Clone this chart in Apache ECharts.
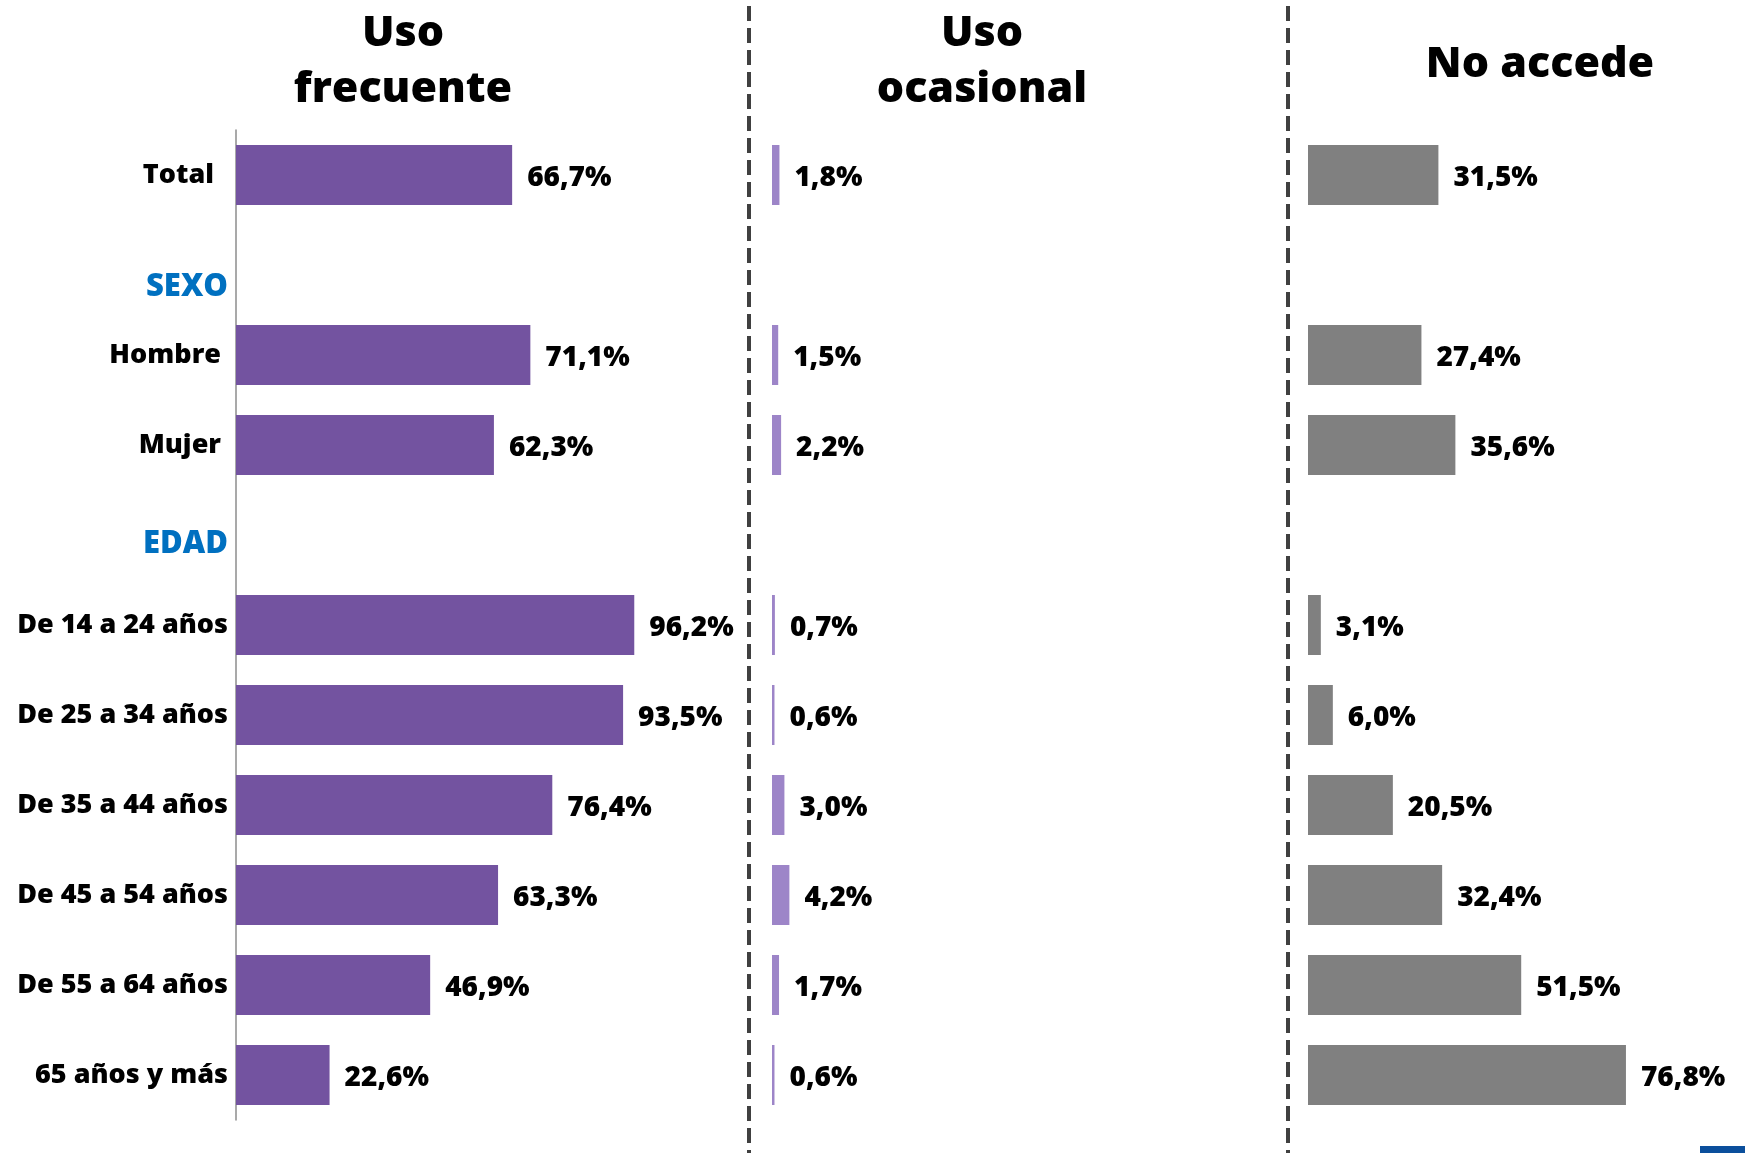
<!DOCTYPE html>
<html>
<head>
<meta charset="utf-8">
<script src="https://cdn.jsdelivr.net/npm/echarts@6/dist/echarts.min.js"></script>
<style>
  html, body { margin: 0; padding: 0; background: #fff; }
  #main { width: 1745px; height: 1153px; }
</style>
</head>
<body>
<div id="main"></div>
<script>
// filas del gráfico (las vacías llevan el rótulo de sección)
var categories = ['Total  ', 'SEXO', 'Hombre ', 'Mujer ', 'EDAD', 'De 14 a 24 años', 'De 25 a 34 años',
  'De 35 a 44 años', 'De 45 a 54 años', 'De 55 a 64 años', '65 años y más']
var usoFrecuente = [66.7, null, 71.1, 62.3, null, 96.2, 93.5, 76.4, 63.3, 46.9, 22.6]
var usoOcasional = [1.8, null, 1.5, 2.2, null, 0.7, 0.6, 3.0, 4.2, 1.7, 0.6]
var noAccede = [31.5, null, 27.4, 35.6, null, 3.1, 6.0, 20.5, 32.4, 51.5, 76.8]
var titles = ['Uso\nfrecuente', 'Uso\nocasional', 'No accede']

var FONT = '"Open Sans", Lato, sans-serif'
var COLORS = ['#7353a0', '#9d85c8', '#808080']
var LEFTS = [236, 772, 1308]
var TITLE_X = [398, 977, 1535]
var TITLE_TOP = [1, 1, 32]

var chart = echarts.init(document.getElementById('main'))

function fmt (p) {
  if (p.value == null) return ''
  return p.value.toFixed(1).replace('.', ',') + '%'
}

var grids = []
var xAxes = []
var yAxes = []
var series = []
var data = [usoFrecuente, usoOcasional, noAccede]

for (var i = 0; i < 3; i++) {
  grids.push({ left: LEFTS[i], width: 414, top: 130, height: 990 })
  xAxes.push({ type: 'value', gridIndex: i, min: 0, max: 100, show: false })
  yAxes.push({
    type: 'category',
    gridIndex: i,
    inverse: true,
    data: categories,
    axisTick: { show: false },
    axisLine: { show: i === 0, lineStyle: { color: '#8c8c8c', width: 1.5 } },
    axisLabel: {
      show: i === 0,
      margin: 8,
      fontFamily: FONT,
      fontWeight: 800,
      fontSize: 27,
      color: '#000',
      formatter: function (v) {
        if (v === 'SEXO') return '{sexo|' + v + '}'
        if (v === 'EDAD') return '{edad|' + v + '}'
        return v
      },
      rich: {
        sexo: { color: '#0070c0', fontFamily: FONT, fontWeight: 800, fontSize: 31, padding: [44, 0, 0, 0] },
        edad: { color: '#0070c0', fontFamily: FONT, fontWeight: 800, fontSize: 31, padding: [18, 0, 0, 0] }
      }
    }
  })
  series.push({
    type: 'bar',
    xAxisIndex: i,
    yAxisIndex: i,
    data: data[i],
    barWidth: 60,
    itemStyle: { color: COLORS[i] },
    label: {
      show: true,
      position: 'right',
      distance: 15,
      offset: [0, 3],
      formatter: fmt,
      fontFamily: FONT,
      fontWeight: 800,
      fontSize: 28,
      color: '#000'
    }
  })
}

var titleOpts = titles.map(function (t, i) {
  return {
    text: t,
    left: TITLE_X[i],
    top: TITLE_TOP[i],
    textAlign: 'center',
    textStyle: { fontFamily: FONT, fontWeight: 800, fontSize: 43, lineHeight: 56, color: '#000' }
  }
})

var option = {
  animation: false,
  backgroundColor: '#fff',
  title: titleOpts,
  grid: grids,
  xAxis: xAxes,
  yAxis: yAxes,
  series: series,
  graphic: [
    { type: 'line', shape: { x1: 749, y1: 6, x2: 749, y2: 1153 }, style: { stroke: '#404040', lineWidth: 4, lineDash: [15, 7] } },
    { type: 'line', shape: { x1: 1288, y1: 6, x2: 1288, y2: 1153 }, style: { stroke: '#404040', lineWidth: 4, lineDash: [15, 7] } },
    { type: 'rect', shape: { x: 1700, y: 1146, width: 45, height: 7 }, style: { fill: '#0b4f9c' } }
  ]
}

chart.setOption(option)
</script>
</body>
</html>
